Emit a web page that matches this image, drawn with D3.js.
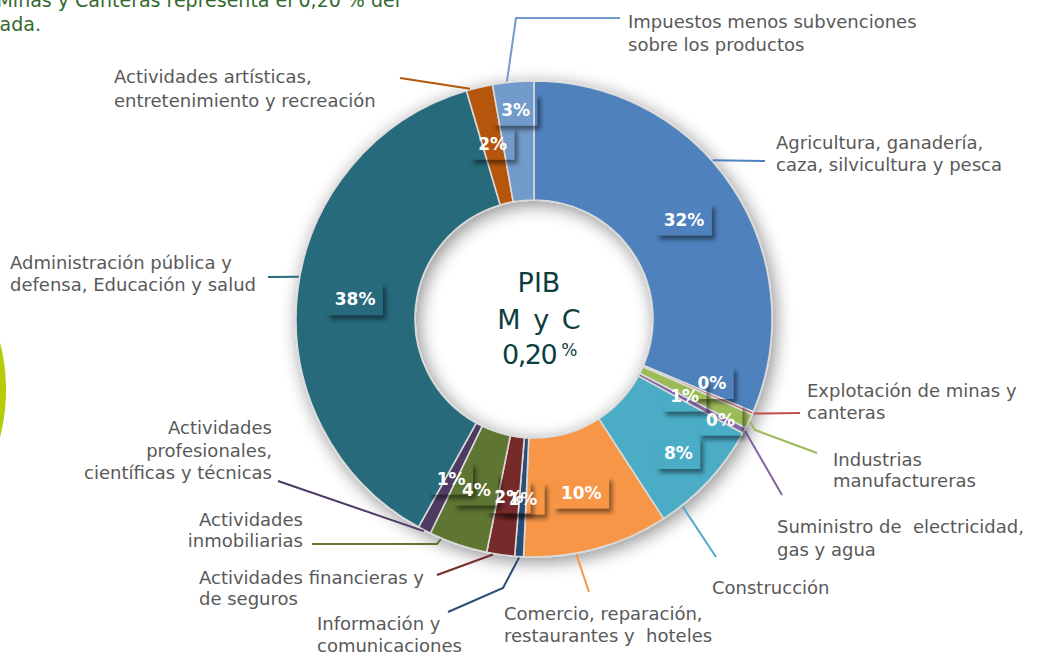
<!DOCTYPE html>
<html><head><meta charset="utf-8">
<script src="https://cdn.jsdelivr.net/npm/d3@7"></script>
<style>body{margin:0;background:#fff;overflow:hidden}</style>
</head><body><svg id="c" width="1053" height="652"></svg>
<script>
// ---------------- DATA ----------------
const categories = [
  "Agricultura, ganadería, caza, silvicultura y pesca",
  "Explotación de minas y canteras",
  "Industrias manufactureras",
  "Suministro de electricidad, gas y agua",
  "Construcción",
  "Comercio, reparación, restaurantes y hoteles",
  "Información y comunicaciones",
  "Actividades financieras y de seguros",
  "Actividades inmobiliarias",
  "Actividades profesionales, científicas y técnicas",
  "Administración pública y defensa, Educación y salud",
  "Actividades artísticas, entretenimiento y recreación",
  "Impuestos menos subvenciones sobre los productos"
];
const values = [31.5, 0.2, 1.0, 0.4, 7.9, 9.9, 0.6, 1.9, 4.0, 0.9, 37.5, 1.8, 2.8];
const colors = ["#4f81bd","#c0504d","#9bbb59","#8064a2","#4bacc6","#f79646","#2c4d75",
                "#772c2a","#5f7530","#4d3b62","#276a7c","#b65708","#729aca"];
const categoryLines = [
  ["Agricultura, ganadería,", "caza, silvicultura y pesca"],
  ["Explotación de minas y", "canteras"],
  ["Industrias", "manufactureras"],
  ["Suministro de  electricidad,", "gas y agua"],
  ["Construcción"],
  ["Comercio, reparación,", "restaurantes y  hoteles"],
  ["Información y", "comunicaciones"],
  ["Actividades financieras y", "de seguros"],
  ["Actividades", "inmobiliarias"],
  ["Actividades", "profesionales,", "científicas y técnicas"],
  ["Administración pública y", "defensa, Educación y salud"],
  ["Actividades artísticas,", "entretenimiento y recreación"],
  ["Impuestos menos subvenciones", "sobre los productos"]
];
const centerTitle = ["PIB", "M y C"];
const centerValue = "0,20";
const centerUnit = "%";
const introLines = ["Minas y Canteras representa el 0,20 % del", "agregada."];

// ---------------- LAYOUT ----------------
const svg = d3.select("#c");
const cx = 534, cy = 319, R = 238, R0 = 119, labelR = 180;
const rad = Math.PI / 180;
const pt = (deg, r) => [cx + r * Math.sin(deg * rad), cy - r * Math.cos(deg * rad)];

const dataLabelTweak = {1:{r:189,da:-3.5}, 2:{r:169,da:1.5}, 3:{r:212,da:0.4}, 4:{r:197,da:0}, 12:{r:210,da:0}};
const leaders = [
  {at:48.4, via:[[765,161]], x:776, y:149, lh:22, anchor:"start"},
  {at:null, via:[[800,413]], x:807, y:397, lh:22, anchor:"start"},
  {at:null, via:[[755,430],[817,453]], x:833, y:466, lh:21, anchor:"start"},
  {at:null, via:[[782,495]], x:777, y:533, lh:23, anchor:"start"},
  {at:141.6, via:[[716,557]], x:712, y:594, lh:22, anchor:"start"},
  {at:169.8, via:[[589,592]], x:504, y:620, lh:22, anchor:"start"},
  {at:null, via:[[503,588],[448,612]], x:317, y:630, lh:22, anchor:"start"},
  {at:189.9, via:[[437,575]], x:199, y:584, lh:21, anchor:"start"},
  {at:202.9, via:[[437,544],[312,544]], x:303, y:526, lh:21, anchor:"end"},
  {at:null, via:[[278,481]], x:272, y:434, lh:22.5, anchor:"end"},
  {at:280.2, via:[[268,277]], x:10, y:269, lh:22, anchor:"start"},
  {at:344.5, via:[[400,78]], x:114, y:83, lh:24, anchor:"start"},
  {at:353.5, via:[[516,18],[620,18]], x:628, y:28, lh:23, anchor:"start"}
];

// ---------------- DEFS ----------------
const defs = svg.append("defs");
const f1 = defs.append("filter").attr("id","ringShadow").attr("x","-20%").attr("y","-20%").attr("width","140%").attr("height","140%");
f1.append("feGaussianBlur").attr("in","SourceAlpha").attr("stdDeviation",9).attr("result","b");
f1.append("feOffset").attr("in","b").attr("dx",3).attr("dy",4).attr("result","o");
f1.append("feComponentTransfer").attr("in","o").attr("result","s")
  .append("feFuncA").attr("type","linear").attr("slope",0.45);
const m1 = f1.append("feMerge"); m1.append("feMergeNode").attr("in","s"); m1.append("feMergeNode").attr("in","SourceGraphic");

const f2 = defs.append("filter").attr("id","boxBlur").attr("x","-40%").attr("y","-40%").attr("width","180%").attr("height","180%");
f2.append("feGaussianBlur").attr("in","SourceGraphic").attr("stdDeviation",2);

// ---------------- BACKGROUND DECOR ----------------
svg.append("circle").attr("cx",-185).attr("cy",390).attr("r",191).attr("fill","#b5cc08");

const intro = svg.append("text").attr("font-family","DejaVu Sans, Verdana, sans-serif")
  .attr("font-size",19).attr("fill","#33692f").attr("text-anchor","end");
intro.append("tspan").attr("x",400).attr("y",7).text(introLines[0]);
intro.append("tspan").attr("x",41).attr("y",31).text(introLines[1]);

// ---------------- DONUT ----------------
const arcs = d3.pie().sort(null).value(d => d)(values);
const arc = d3.arc().innerRadius(R0).outerRadius(R);
const g = svg.append("g").attr("transform",`translate(${cx},${cy})`);
g.append("g").attr("filter","url(#ringShadow)")
  .selectAll("path").data(arcs).join("path")
  .attr("d", arc).attr("fill",(d,i)=>colors[i])
  .attr("stroke","#dadada").attr("stroke-width",1.6).attr("stroke-linejoin","round");

// ---------------- LEADER LINES + CATEGORY LABELS ----------------
const deg = a => a / rad;
arcs.forEach((d,i) => {
  const L = leaders[i];
  const ang = L.at === null ? deg((d.startAngle + d.endAngle) / 2) : L.at;
  const pts = [pt(ang, R + 1), ...L.via];
  svg.append("path").attr("d", d3.line()(pts)).attr("fill","none")
    .attr("stroke", colors[i]).attr("stroke-width",2);
  const t = svg.append("text").attr("font-family","DejaVu Sans, Verdana, sans-serif")
    .attr("font-size",18).attr("fill","#595959").attr("text-anchor",L.anchor)
    .style("white-space","pre");
  categoryLines[i].forEach((s,k) => t.append("tspan").attr("x",L.x).attr("y",L.y + k*L.lh).text(s));
});

// ---------------- DATA LABELS (transparent boxes with outer shadow) ----------------
const shadowLayer = svg.append("g");
const textLayer = svg.append("g");
arcs.forEach((d,i) => {
  const tw = dataLabelTweak[i] || {r:labelR, da:0};
  const mid = deg((d.startAngle + d.endAngle) / 2) + tw.da;
  const [x,y] = pt(mid, tw.r);
  const txt = Math.round(values[i]) + "%";
  const t = textLayer.append("text").attr("x",x).attr("y",y).attr("dy","0.36em")
    .attr("text-anchor","middle").attr("font-family","DejaVu Sans, Verdana, sans-serif")
    .attr("font-weight","bold").attr("font-size",17).attr("fill","#fff").text(txt);
  const w = t.node().getComputedTextLength() + 15, h = 32;
  const bx = x - w/2, by = y - 16;
  const mask = defs.append("mask").attr("id","lm"+i).attr("maskUnits","userSpaceOnUse")
    .attr("x",0).attr("y",0).attr("width",1053).attr("height",652);
  mask.append("rect").attr("width",1053).attr("height",652).attr("fill","#fff");
  mask.append("rect").attr("x",bx).attr("y",by).attr("width",w).attr("height",h).attr("fill","#000");
  shadowLayer.append("g").attr("mask",`url(#lm${i})`)
    .append("rect").attr("x",bx+3).attr("y",by+4).attr("width",w).attr("height",h)
    .attr("fill","#000").attr("opacity",0.45).attr("filter","url(#boxBlur)");
});

// ---------------- CENTER TEXT ----------------
const ct = svg.append("text").attr("font-family","DejaVu Sans, Verdana, sans-serif")
  .attr("fill","#0e3d3d").attr("text-anchor","middle");
ct.append("tspan").attr("x",539).attr("y",292).attr("font-size",27).text(centerTitle[0]);
ct.append("tspan").attr("x",539).attr("y",329).attr("font-size",27).attr("word-spacing",4).text(centerTitle[1]);
const cv = svg.append("text").attr("font-family","DejaVu Sans, Verdana, sans-serif").attr("fill","#0e3d3d");
cv.append("tspan").attr("x",502).attr("y",364).attr("font-size",27).attr("letter-spacing",-1.5).text(centerValue);
cv.append("tspan").attr("dx",5).attr("y",356).attr("font-size",17).text(centerUnit);
</script></body></html>
